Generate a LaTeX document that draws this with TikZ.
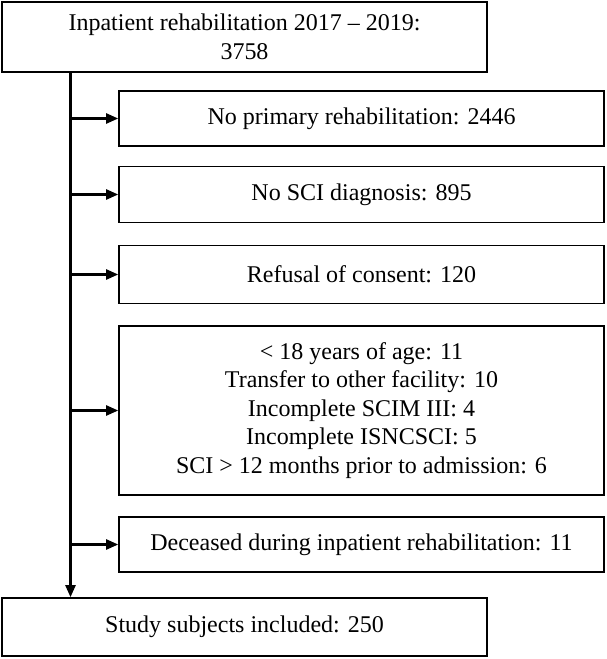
\documentclass[tikz,border=0pt]{standalone}
\usepackage{fontspec}
\setmainfont{Liberation Serif}
\usepackage{tikz}
\usetikzlibrary{arrows.meta, positioning, calc}

\tikzset{
  mainbox/.style={draw, line width=1.6pt, minimum width=485pt, inner sep=0pt, align=center,
    font=\fontsize{24}{28.5}\selectfont},
  sidebox/.style={mainbox},
  flowarrow/.style={draw, line width=2.3pt, -{Triangle[length=12pt, width=10pt]}}
}

\begin{document}
\begin{tikzpicture}[x=1pt, y=-1pt]
				\useasboundingbox (0,0) rectangle (606,659);
				
				% Main boxes
				\node[mainbox, minimum height=70pt] (total) at (244.5,37) {Inpatient rehabilitation 2017 -- 2019:\\3758};
				\node[mainbox, minimum height=58pt] (incl) at (244.5,627) {Study subjects included: 250};
				
				% Exclusion boxes
				\node[sidebox, minimum height=55pt] (noprim) at (361.5,118.5) {No primary rehabilitation: 2446};
				\node[sidebox, minimum height=56pt] (nosci) at (361.5,194.5) {No SCI diagnosis: 895};
				\node[sidebox, minimum height=58pt] (refusal) at (361.5,274.5) {Refusal of consent: 120};
				\node[sidebox, minimum height=169pt] (other) at (361.5,410.5) {< 18 years of age: 11\\Transfer to other facility: 10\\Incomplete SCIM III: 4\\Incomplete ISNCSCI: 5\\SCI > 12 months prior to admission: 6};
				\node[sidebox, minimum height=55pt] (deceased) at (361.5,544.5) {Deceased during inpatient rehabilitation: 11};
				
				% Trunk
				\coordinate (trunk) at (70.5,0);
				\draw[flowarrow] (total.south -| trunk) -- (incl.north -| trunk);
				
				% Arrows to exclusions
				\foreach \b in {noprim, nosci, refusal, other, deceased} {
					\draw[flowarrow] (\b.west -| trunk) -- (\b.west);
				}
			\end{tikzpicture}
\end{document}
